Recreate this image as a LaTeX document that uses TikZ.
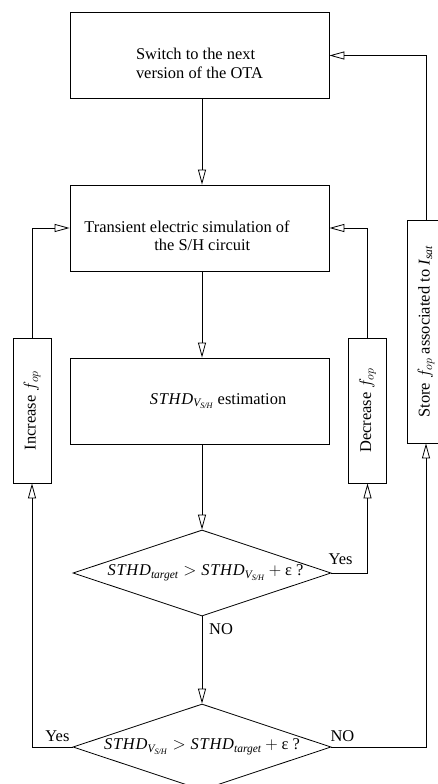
\documentclass[tikz,border=0pt]{standalone}
\usepackage{amsmath}
\usepackage{fontspec}
\setmainfont{Liberation Serif}
\usetikzlibrary{shapes.geometric,arrows.meta}
\tikzset{
  stage/.style={
    draw,
    line width=0.8bp,
    minimum width=259bp,
    minimum height=86bp,
    inner sep=0pt,
  },
  turned/.style={
    draw,
    line width=0.8bp,
    rotate=90,
    minimum height=38bp,
    inner sep=0pt,
  },
  test/.style={
    draw,
    diamond,
    line width=0.8bp,
    minimum width=258bp,
    minimum height=86bp,
    inner sep=0pt,
  },
  link/.style={line width=0.8bp},
  flow/.style={line width=0.8bp, -{Triangle[open,length=15bp,width=8bp]}},
  tag/.style={inner sep=1bp},
}
\newcommand{\sthd}{\textit{S\kern0.8bp T\kern0.8bp H\kern0.8bp D}}
\newcommand{\vsh}{\textit{V}_{\textit{S/H}}}
\newcommand{\lift}{\rule{0pt}{27bp}}

\begin{document}
\begin{tikzpicture}[x=1bp, y=-1bp, font=\fontsize{16.5}{18.5}\selectfont]
            \useasboundingbox (0,0) rectangle (438,784);

            \coordinate (spine) at (202,0);

            % Boxes
            \node[stage, align=left] (next) at (199.5,55.5)
              {\lift Switch to the next\\version of the OTA};
            \node[stage, align=left] (sim) at (199.5,228)
              {\lift Transient electric simulation of\hspace*{25bp}\\\hspace*{70bp}the S/H circuit};
            \node[stage] (est) at (199.5,401)
              {\hspace*{37bp}$\sthd_{\vsh}$ estimation};

            % Side boxes
            \node[turned, minimum width=145bp] (inc) at (32,410.5) {Increase $f_{op}$};
            \node[turned, minimum width=145bp] (dec) at (367.5,410.5) {Decrease $f_{op}$};
            \node[turned, minimum width=223bp] (store) at (426,331.5)
              {Store $f_{op}$ associated to \textit{I}$_{\textit{sat}}$};

            % Tests
            \node[test] (low) at (202,573)
              {\makebox[0pt]{\hspace*{7bp}$\sthd_{\textit{target}} > \sthd_{\vsh} + \text{ε}$ ?}};
            \node[test] (high) at (202,747)
              {\makebox[0pt]{$\sthd_{\vsh} > \sthd_{\textit{target}} + \text{ε}$ ?}};

            % Main flow
            \draw[flow] (next.south -| spine) -- (sim.north -| spine);
            \draw[flow] (sim.south -| spine) -- (est.north -| spine);
            \draw[flow] (est.south -| spine) -- (low.north);
            \draw[flow] (low.south) -- (high.north);

            % Loops back
            \draw[flow] (low.east) -- (low.east -| dec) -- (dec.west);
            \draw[flow] (dec.east) -- (dec.east |- sim.east) -- (sim.east);
            \draw[flow] (high.west) -- (high.west -| inc) -- (inc.west);
            \draw[flow] (inc.east) -- (inc.east |- sim.west) -- (sim.west);
            \draw[flow] (high.east) -- (high.east -| store) -- (store.west);
            \draw[flow] (store.east) -- (store.east |- next.east) -- (next.east);

            % Labels
            \node[tag, anchor=south west, xshift=-4bp, yshift=7bp] (yes1) at (low.east) {Yes};
            \node[tag, anchor=north west, xshift=6bp, yshift=-6bp] (no1) at (low.south) {NO};
            \node[tag, anchor=south east, xshift=-2bp, yshift=4bp] (yes2) at (high.west) {Yes};
            \node[tag, anchor=south west, xshift=-2bp, yshift=4bp] (no2) at (high.east) {NO};
          \end{tikzpicture}
\end{document}
